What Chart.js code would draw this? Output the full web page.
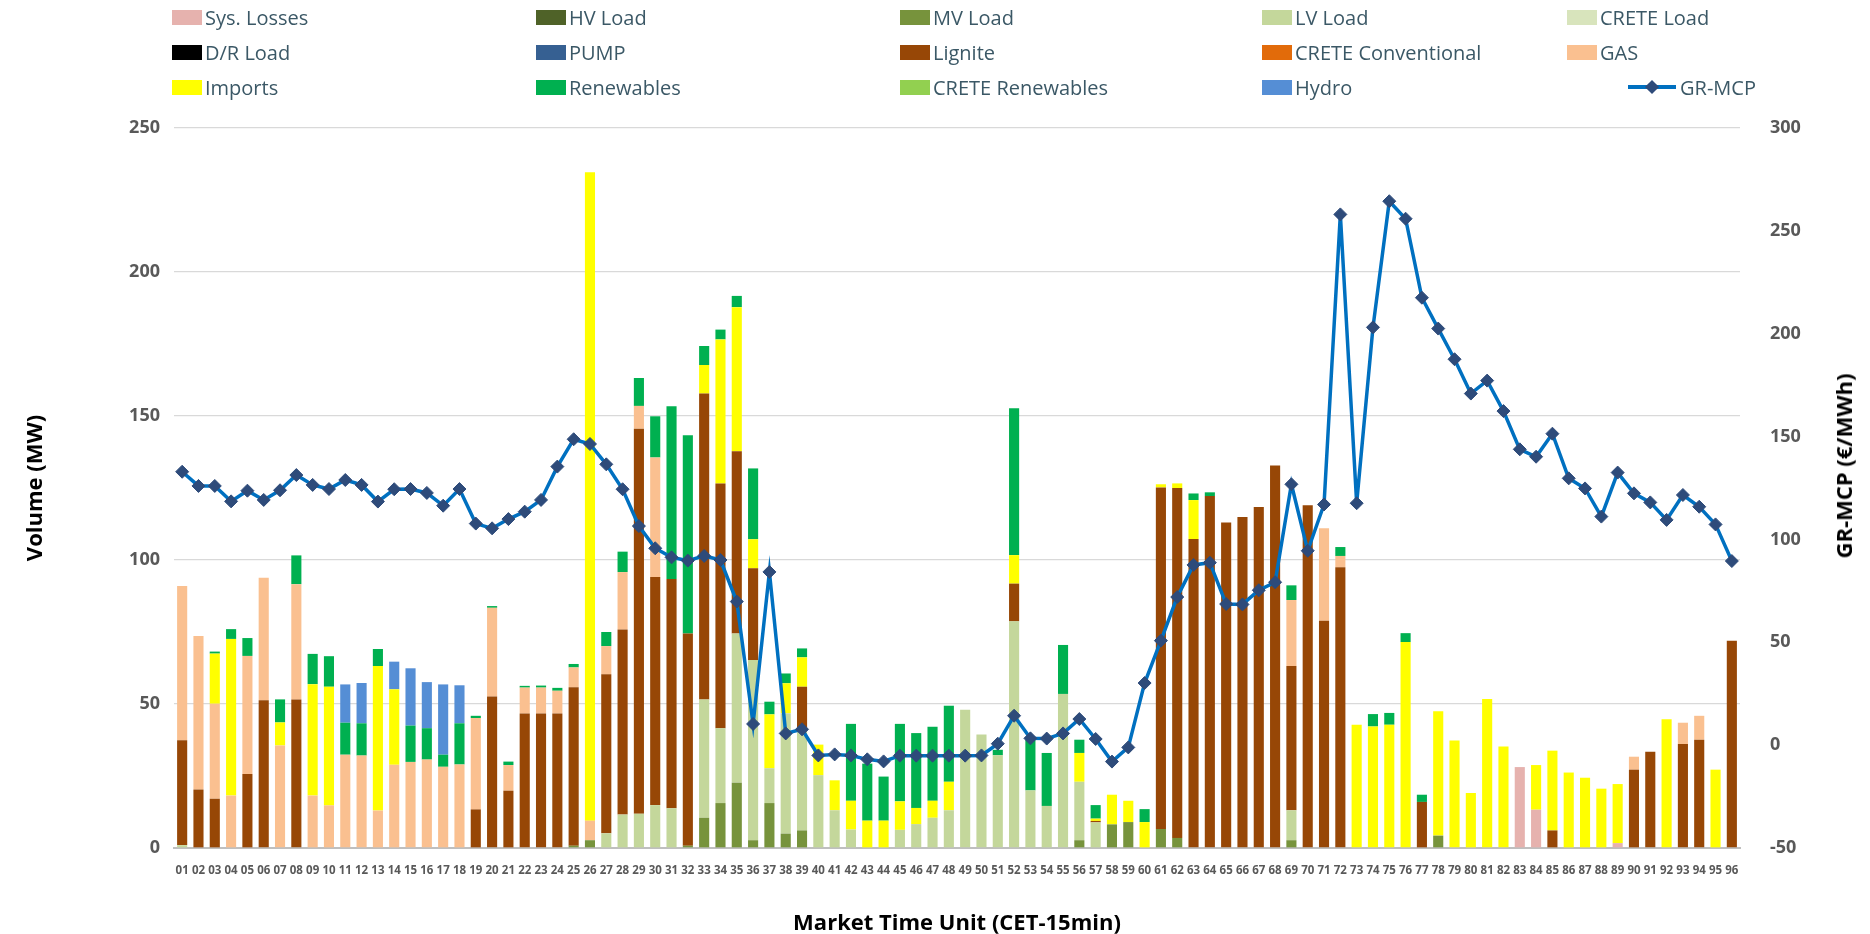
<!DOCTYPE html>
<html><head><meta charset="utf-8">
<script src="https://cdn.jsdelivr.net/npm/chart.js@4/dist/chart.umd.min.js"></script>
<style>
html,body{margin:0;padding:0;background:#fff;overflow:hidden;}
#wrap{position:relative;width:1870px;height:934px;}
#legend{position:absolute;left:0;top:0;width:1870px;height:110px;font-family:'Open Sans',sans-serif;font-size:20px;color:#3B5866;}
.li{position:absolute;display:flex;align-items:center;white-space:nowrap;height:28px;}
.sw{width:30px;height:15px;margin-right:3px;}
.ln{position:relative;width:48px;height:28px;margin-right:4px;}
.ln .bar{position:absolute;left:0;top:12px;width:48px;height:4px;background:#0070C0;}
.ln .dia{position:absolute;left:19px;top:9px;width:10px;height:10px;background:#2E4B7A;transform:rotate(45deg);}
#rtitle{position:absolute;left:1843px;top:466px;transform:translate(-50%,-50%) rotate(-90deg);font-family:'Open Sans',sans-serif;font-weight:bold;font-size:22px;white-space:nowrap;color:#000;}
</style></head>
<body>
<div id="wrap">
<canvas id="c" width="1870" height="934"></canvas>
<div id="legend"></div>
<div id="rtitle">GR-MCP (€/MWh)</div>
</div>
<script>
const categories = ['01','02','03','04','05','06','07','08','09','10','11','12','13','14','15','16','17','18','19','20','21','22','23','24','25','26','27','28','29','30','31','32','33','34','35','36','37','38','39','40','41','42','43','44','45','46','47','48','49','50','51','52','53','54','55','56','57','58','59','60','61','62','63','64','65','66','67','68','69','70','71','72','73','74','75','76','77','78','79','80','81','82','83','84','85','86','87','88','89','90','91','92','93','94','95','96'];

const sysLosses = [0,0,0,0,0,0,0,0,0,0,0,0, 0,0,0,0,0,0,0,0,0,0,0,0, 0,0,0,0,0,0,0,0,0,0,0,0, 0,0,0,0,0,0,0,0,0,0,0,0, 0,0,0,0,0,0,0,0,0,0,0,0, 0,0,0,0,0,0,0,0,0,0,0,0, 0,0,0,0,0,0,0,0,0,0,28.1,13.3, 0,0,0,0,1.7,0,0,0,0,0,0,0];
const hvLoad = [];
const mvLoad = [0,0,0,0,0,0,0,0,0,0,0,0, 0,0,0,0,0,0,0,0,0,0,0,0, 0.8,2.7,0,0,0,0,0,0.8,10.5,15.6,22.7,2.7, 15.6,5.0,6.1,0,0,0,0,0,0,0,0,0, 0,0,0,0,0,0,0,2.7,0,8.2,9.0,0, 6.6,3.5,0,0,0,0,0,0,2.7,0,0,0, 0,0,0,0,0,4.3,0,0,0,0,0,0, 0,0,0,0,0,0,0,0,0,0,0,0];
const lvLoad = [1.0,0,0,0,0,0,0,0,0,0,0,0, 0,0,0,0,0,0,0,0,0,0,0,0, 0,0,5.1,11.6,11.9,14.9,13.8,0,41.1,26.0,51.8,62.6, 12.1,41.8,35.6,25.3,13.1,6.4,0,0,6.3,8.3,10.5,13.1, 48.0,39.4,32.2,78.7,20.0,14.6,53.5,20.3,8.9,0,0,0, 0,0,0,0,0,0,0,0,10.4,0,0,0, 0,0,0,0,0,0,0,0,0,0,0,0, 0,0,0,0,0,0,0,0,0,0,0,0];
const creteLoad = [];
const drLoad = [];
const pump = [];
const lignite = [36.4,20.3,17.1,0,25.7,51.3,0,51.6,0,0,0,0, 0,0,0,0,0,0,13.4,52.6,19.9,46.7,46.7,46.7, 55.0,0,55.2,64.3,133.7,79.2,79.6,73.7,106.2,85.0,63.3,31.8, 0,0,14.3,0,0,0,0,0,0,0,0,0, 0,0,0,13.1,0,0,0,0,0.5,0,0,0, 118.6,121.5,107.3,122.2,113.0,114.9,118.4,132.8,50.1,119.0,78.9,97.5, 0,0,0,0,16.0,0,0,0,0,0,0,0, 6.1,0,0,0,0,27.2,33.4,0,36.1,37.6,0,72.0];
const creteConventional = [];
const gas = [53.6,53.3,33.0,18.2,41.0,42.5,35.6,40.0,18.2,14.8,32.4,32.1, 13.0,28.9,29.9,30.7,28.2,29.0,31.7,30.8,8.9,9.0,9.0,7.9, 6.9,6.8,9.8,19.9,7.9,41.5,0,0,0,0,0,0, 0,0,0,0,0,0,0,0,0,0,0,0, 0,0,0,0,0,0,0,0,0,0,0,0, 0,0,0,0,0,0,0,0,22.9,0,32.1,3.9, 0,0,0,0,0,0,0,0,0,0,0,0, 0,0,0,0,0,4.5,0,0,7.4,8.3,0,0];
const imports = [0,0,17.4,54.4,0,0,8.0,0,38.7,41.2,0,0, 50.2,26.2,0,0,0,0,0,0,0,0,0,0, 0,225.1,0,0,0,0,0,0,9.9,50.0,50.0,10.1, 18.7,10.4,10.2,10.6,10.4,10.0,9.5,9.5,9.9,5.6,5.9,9.9, 0,0,0,9.9,0,0,0,10.0,0.8,10.3,7.4,9.0, 1.1,1.6,13.5,0,0,0,0,0,0,0,0,0, 42.8,42.2,42.8,71.5,0,43.2,37.3,19.1,51.7,35.2,0,15.5, 27.7,26.2,24.4,20.6,20.5,0,0,44.7,0,0,27.2,0];
const renewables = [0,0,0.7,3.4,6.2,0,8.0,10.0,10.5,10.6,11.1,11.2, 5.9,0,12.6,10.9,4.2,14.3,0.8,0.6,1.2,0.6,0.7,1.0, 1.2,0,4.9,7.1,9.7,14.3,60.0,68.8,6.6,3.4,3.9,24.6, 4.4,3.4,3.1,0,0,26.7,19.8,15.3,26.9,26.0,25.7,26.4, 0,0,1.9,51.0,17.6,18.4,17.0,4.6,4.7,0,0,4.5, 0,0,2.3,1.3,0,0,0,0,5.1,0,0,3.1, 0,4.3,4.1,3.1,2.5,0,0,0,0,0,0,0, 0,0,0,0,0,0,0,0,0,0,0,0];
const creteRenewables = [];
const hydro = [0,0,0,0,0,0,0,0,0,0,13.3,14.0, 0,9.6,19.9,16.0,24.4,13.2,0,0,0,0,0,0, 0,0,0,0,0,0,0,0,0,0,0,0, 0,0,0,0,0,0,0,0,0,0,0,0, 0,0,0,0,0,0,0,0,0,0,0,0, 0,0,0,0,0,0,0,0,0,0,0,0, 0,0,0,0,0,0,0,0,0,0,0,0, 0,0,0,0,0,0,0,0,0,0,0,0];
const grMcp = [132.9,126.0,126.0,118.5,123.7,119.2,123.9,131.3,126.5,124.5,128.9,126.5, 118.4,124.4,124.5,122.6,116.4,124.5,107.7,105.4,109.9,113.5,119.2,135.4, 148.7,146.4,136.5,124.4,106.5,95.7,91.3,89.7,92.0,90.0,69.8,10.3, 84.2,5.7,7.7,-5.0,-4.5,-5.0,-6.9,-7.9,-5.1,-5.1,-5.1,-5.1, -5.1,-5.0,0.7,14.3,3.3,3.2,5.7,12.7,3.0,-8.0,-1.1,30.2, 50.8,72.0,87.6,88.7,68.6,68.4,75.3,79.2,126.8,94.5,117.0,258.0, 117.6,203.1,264.4,255.9,217.5,202.5,187.6,170.9,177.2,162.4,143.8,140.2, 151.4,129.7,124.8,111.1,132.5,122.4,118.0,109.5,121.6,115.9,107.3,89.5];
const leftTicks = [0,50,100,150,200,250];
const rightTicks = [-50,0,50,100,150,200,250,300];

const barSeries = [
  {label:'Sys. Losses', data:sysLosses, color:'#E6B2AE'},
  {label:'HV Load', data:hvLoad, color:'#4F6228'},
  {label:'MV Load', data:mvLoad, color:'#77933C'},
  {label:'LV Load', data:lvLoad, color:'#C4D79B'},
  {label:'CRETE Load', data:creteLoad, color:'#D8E4BC'},
  {label:'D/R Load', data:drLoad, color:'#000000'},
  {label:'PUMP', data:pump, color:'#366092'},
  {label:'Lignite', data:lignite, color:'#974706'},
  {label:'CRETE Conventional', data:creteConventional, color:'#E26B0A'},
  {label:'GAS', data:gas, color:'#FAC090'},
  {label:'Imports', data:imports, color:'#FFFF00'},
  {label:'Renewables', data:renewables, color:'#00B050'},
  {label:'CRETE Renewables', data:creteRenewables, color:'#92D050'},
  {label:'Hydro', data:hydro, color:'#558ED5'}
];

Chart.defaults.font.family = "'Open Sans', sans-serif";
Chart.defaults.animation = false;

const datasets = barSeries.map(s => ({
  type:'bar', label:s.label, data:s.data, backgroundColor:s.color,
  yAxisID:'y', order:1, barPercentage:0.62, categoryPercentage:1.0, borderWidth:0
}));
datasets.push({
  type:'line', label:'GR-MCP', data:grMcp, yAxisID:'y2', order:0,
  borderColor:'#0070C0', borderWidth:3.5, tension:0, fill:false,
  pointStyle:'rectRot', pointRadius:6.5, pointBackgroundColor:'#2E4B7A', pointBorderColor:'#2E4B7A', pointBorderWidth:1
});

const tickFont = {size:18, weight:'bold'};
new Chart(document.getElementById('c'), {
  data:{labels:categories, datasets},
  options:{
    responsive:false,
    layout:{padding:{top:128, left:0, right:0, bottom:0}},
    plugins:{legend:{display:false}, tooltip:{enabled:false}},
    scales:{
      x:{
        stacked:true,
        grid:{display:false, drawTicks:false},
        border:{display:true, color:'#BFBFBF', width:2},
        ticks:{autoSkip:false, maxRotation:0, minRotation:0, padding:16, color:'#595959', font:{size:11.5, weight:'bold'}},
        title:{display:true, text:'Market Time Unit (CET-15min)', color:'#000', font:{size:22, weight:'bold', lineHeight:0.9}, padding:{top:0,bottom:0}},
        afterFit:(s)=>{ s.height = 86; }
      },
      y:{
        position:'left', stacked:true, min:0, max:250,
        afterBuildTicks:(s)=>{ s.ticks = leftTicks.map(v=>({value:v})); },
        grid:{color:(c)=> c.tick && c.tick.value===0 ? '#BFBFBF' : '#D9D9D9', lineWidth:1.3, drawTicks:false},
        border:{display:false},
        ticks:{padding:14, color:'#595959', font:tickFont},
        title:{display:true, text:'Volume (MW)', color:'#000', font:{size:22, weight:'bold'}, padding:{top:23,bottom:0}},
        afterFit:(s)=>{ s.width = 174; }
      },
      y2:{
        position:'right', min:-50, max:300,
        afterBuildTicks:(s)=>{ s.ticks = rightTicks.map(v=>({value:v})); },
        grid:{display:false, drawTicks:false},
        border:{display:false},
        ticks:{padding:30, color:'#595959', font:tickFont},
        afterFit:(s)=>{ s.width = 130; }
      }
    }
  }
});

// HTML legend (5 columns x 3 rows)
const colX = [172, 536, 900, 1262, 1567];
const rowY = [17, 52, 87];
const legend = document.getElementById('legend');
const items = barSeries.map(s=>({label:s.label, color:s.color})).concat([{label:'GR-MCP', line:true}]);
items.forEach((it, i) => {
  const r = Math.floor(i/5), c = i%5;
  const d = document.createElement('div');
  d.className = 'li';
  d.style.left = (it.line ? 1628 : colX[c]) + 'px';
  d.style.top = (rowY[r]-14) + 'px';
  if (it.line) {
    d.innerHTML = '<div class="ln"><div class="bar"></div><div class="dia"></div></div>';
  } else {
    const sw = document.createElement('div'); sw.className='sw'; sw.style.background = it.color; d.appendChild(sw);
  }
  const t = document.createElement('span'); t.textContent = it.label; d.appendChild(t);
  legend.appendChild(d);
});
</script>
</body></html>
